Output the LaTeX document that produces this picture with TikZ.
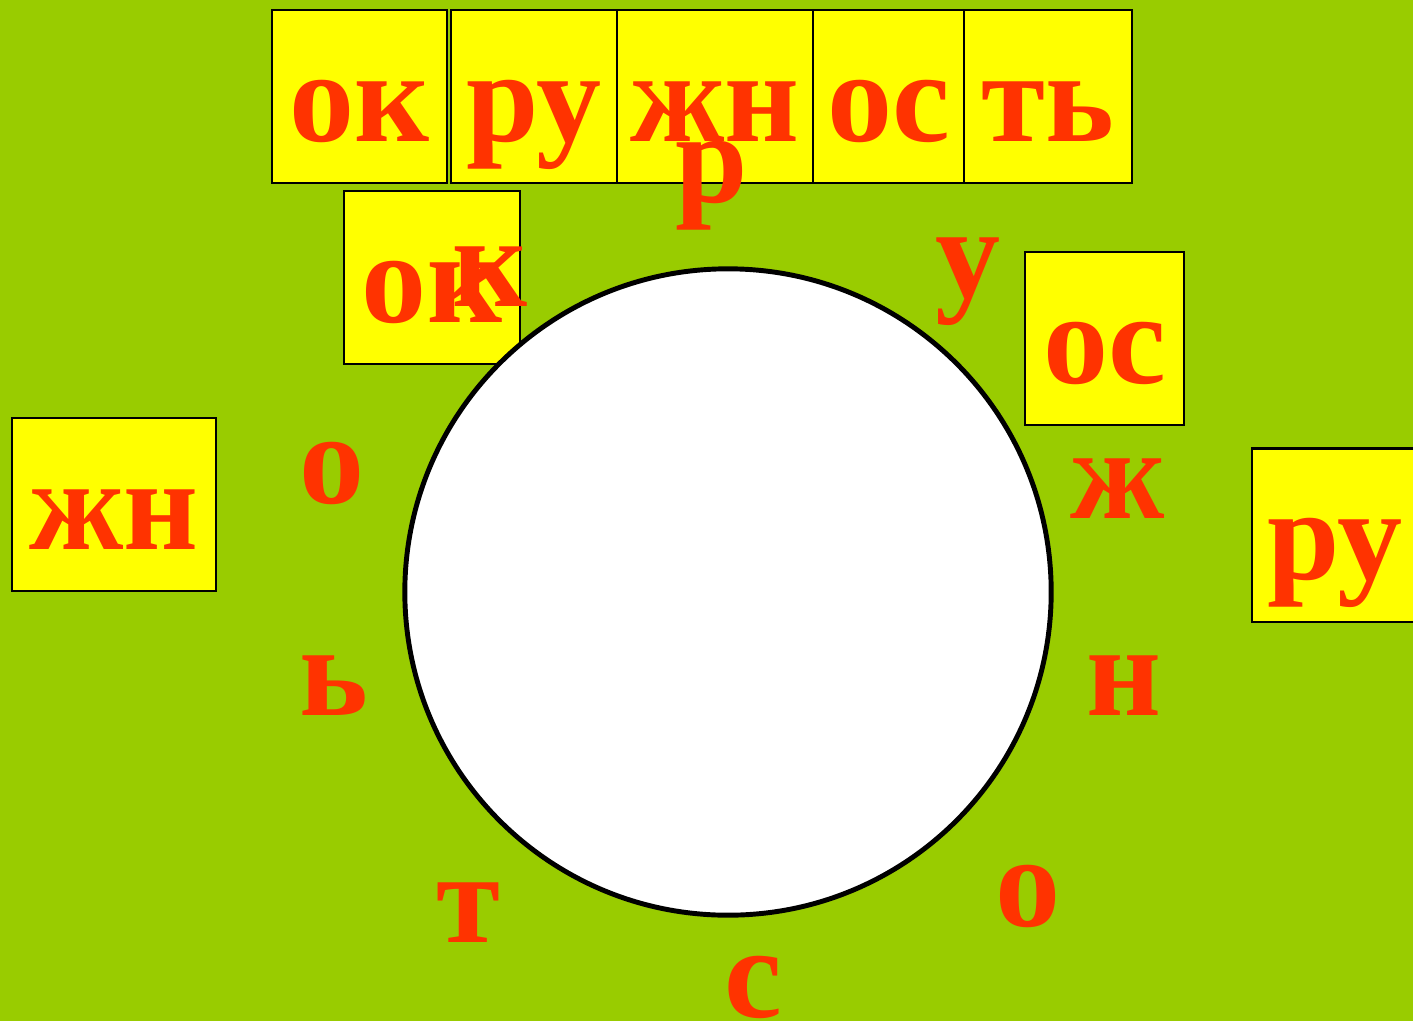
\documentclass[tikz,border=0pt]{standalone}
\usepackage{fontspec}
\setmainfont{Liberation Serif}
\usepackage{xcolor}
\usepackage{tikz}
\usetikzlibrary{positioning}
\definecolor{fieldgreen}{HTML}{99CC00}
\definecolor{cardyellow}{HTML}{FFFF00}
\definecolor{letterred}{HTML}{FF3300}
\newcommand{\bigletters}{\fontsize{37}{44}\selectfont\bfseries}

\begin{document}
\begin{tikzpicture}[x=0.01cm, y=-0.01cm,
  card/.style={draw=black, line width=0.6pt, fill=cardyellow, text=letterred,
    font=\bigletters, inner sep=0pt, minimum height=1.73cm,
    text height=0.89cm, text depth=0pt, align=center},
  letter/.style={text=letterred, font=\bigletters, inner sep=0pt, anchor=base}]
  \useasboundingbox (0,0) rectangle (1413,1021);
  \fill[fieldgreen] (0,0) rectangle (1413,1021);

  % word split into cards
  \node[card, minimum width=1.75cm] (c-ok)  at (359.5,96.5) {ок};
  \node[card, minimum width=1.66cm] (c-ru)  at (534,96.5)   {ру};
  \node[card, minimum width=1.96cm] (c-zhn) at (715,96.5)   {жн};
  \node[card, minimum width=1.51cm] (c-os)  at (888.5,96.5) {ос};
  \node[card, minimum width=1.68cm] (c-t)   at (1048,96.5)  {ть};

  % loose cards
  \node[card, minimum width=1.76cm] (s-ok)  at (432,277.5)   {ок};
  \node[card, minimum width=1.59cm] (s-os)  at (1104.5,338.5) {ос};
  \node[card, minimum width=2.04cm] (s-zhn) at (114,504.5)   {жн};
  \node[card, minimum width=1.66cm] (s-ru)  at (1335,535)    {ру};

  % ring
  \node[circle, draw=black, line width=1.4pt, fill=white, inner sep=0pt,
    minimum size=6.46cm] (ring) at (728,592) {};

  % letters round the ring
  \node[letter] (l-r)   at (712,202)  {р};
  \node[letter] (l-u)   at (968,297)  {у};
  \node[letter] (l-zh)  at (1118,518) {ж};
  \node[letter] (l-n)   at (1124,715) {н};
  \node[letter] (l-o2)  at (1028,926) {о};
  \node[letter] (l-s)   at (753,1017) {с};
  \node[letter] (l-t)   at (468,942)  {т};
  \node[letter] (l-soft) at (334,715) {ь};
  \node[letter] (l-o1)  at (332,503)  {о};
  \node[letter] (l-k)   at (490,306)  {к};
\end{tikzpicture}
\end{document}
